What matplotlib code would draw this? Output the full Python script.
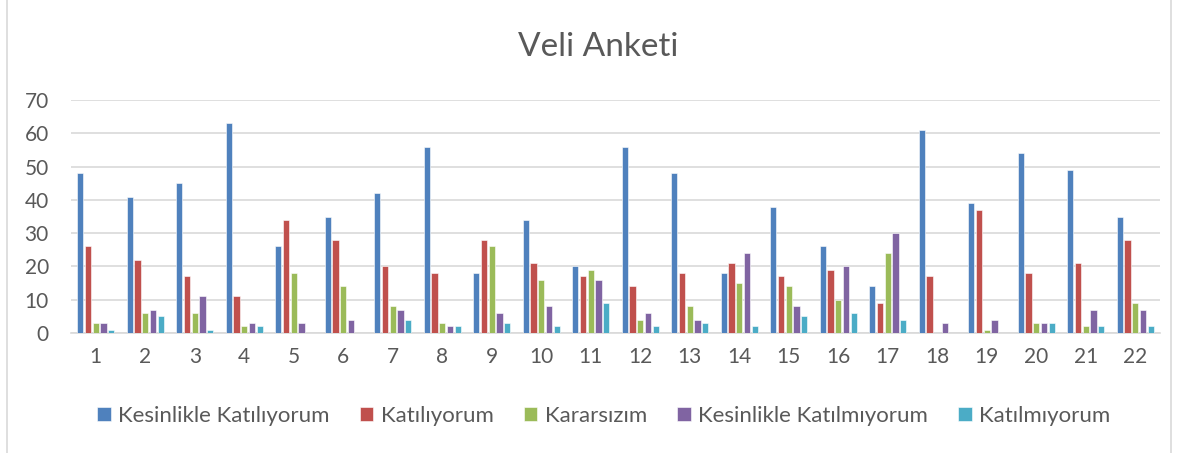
import numpy as np
import matplotlib
matplotlib.use('Agg')
import matplotlib.pyplot as plt
from matplotlib.lines import Line2D

plt.rcParams['font.family'] = ['Lato', 'DejaVu Sans']

# survey questions 1..22
questions = [str(i) for i in range(1, 23)]
kesinlikle_katiliyorum = [48, 41, 45, 63, 26, 35, 42, 56, 18, 34, 20, 56, 48, 18, 38, 26, 14, 61, 39, 54, 49, 35]
katiliyorum = [26, 22, 17, 11, 34, 28, 20, 18, 28, 21, 17, 14, 18, 21, 17, 19, 9, 17, 37, 18, 21, 28]
kararsizim = [3, 6, 6, 2, 18, 14, 8, 3, 26, 16, 19, 4, 8, 15, 14, 10, 24, 0, 1, 3, 2, 9]
kesinlikle_katilmiyorum = [3, 7, 11, 3, 3, 4, 7, 2, 6, 8, 16, 6, 4, 24, 8, 20, 30, 3, 4, 3, 7, 7]
katilmiyorum = [1, 5, 1, 2, 0, 0, 4, 2, 3, 2, 9, 2, 3, 2, 5, 6, 4, 0, 0, 3, 2, 2]

series = [
    ("Kesinlikle Katılıyorum", kesinlikle_katiliyorum, '#4F81BD'),
    ("Katılıyorum", katiliyorum, '#C0504D'),
    ("Kararsızım", kararsizim, '#9BBB59'),
    ("Kesinlikle Katılmıyorum", kesinlikle_katilmiyorum, '#8064A2'),
    ("Katılmıyorum", katilmiyorum, '#4BACC6'),
]

txt = '#595959'
fig = plt.figure(figsize=(11.84, 4.53), dpi=100)
ax = fig.add_axes([71 / 1184, 1 - 333 / 453, (1160 - 71) / 1184, (333 - 100) / 453])

x = np.arange(len(questions))
step = 0.155
w = 0.125
for i, (name, vals, col) in enumerate(series):
    ax.bar(x + (i - 2) * step, vals, width=w, color=col, label=name,
           edgecolor='white', linewidth=0.4, zorder=3)

ax.set_xlim(-0.5, len(questions) - 0.5)
ax.set_ylim(0, 70)
ax.set_yticks(range(0, 71, 10))
ax.set_xticks(x)
ax.set_xticklabels(questions)
ax.yaxis.grid(True, color='#D9D9D9', linewidth=1.2, zorder=0)
ax.tick_params(axis='both', length=0, labelsize=15, colors=txt)
ax.tick_params(axis='y', pad=16)
ax.tick_params(axis='x', pad=10)
for s in ['top', 'right', 'left']:
    ax.spines[s].set_visible(False)
ax.spines['bottom'].set_color('#D9D9D9')
ax.spines['bottom'].set_linewidth(1.2)

fig.text(598 / 1184, 1 - 47 / 453, "Veli Anketi", ha='center', va='center', fontsize=24, color=txt)

fig.legend(loc='center', bbox_to_anchor=(604 / 1184, 1 - 416 / 453), ncol=5, frameon=False,
           fontsize=16, labelcolor=txt, handlelength=0.6, handleheight=0.6,
           handletextpad=0.35, columnspacing=1.35)

# chart border
fig.add_artist(Line2D([7 / 1184, 7 / 1184], [0, 1], color='#D9D9D9', linewidth=1.2))
fig.add_artist(Line2D([1171 / 1184, 1171 / 1184], [0, 1], color='#D9D9D9', linewidth=1.2))

fig.savefig('out.png', dpi=100)
